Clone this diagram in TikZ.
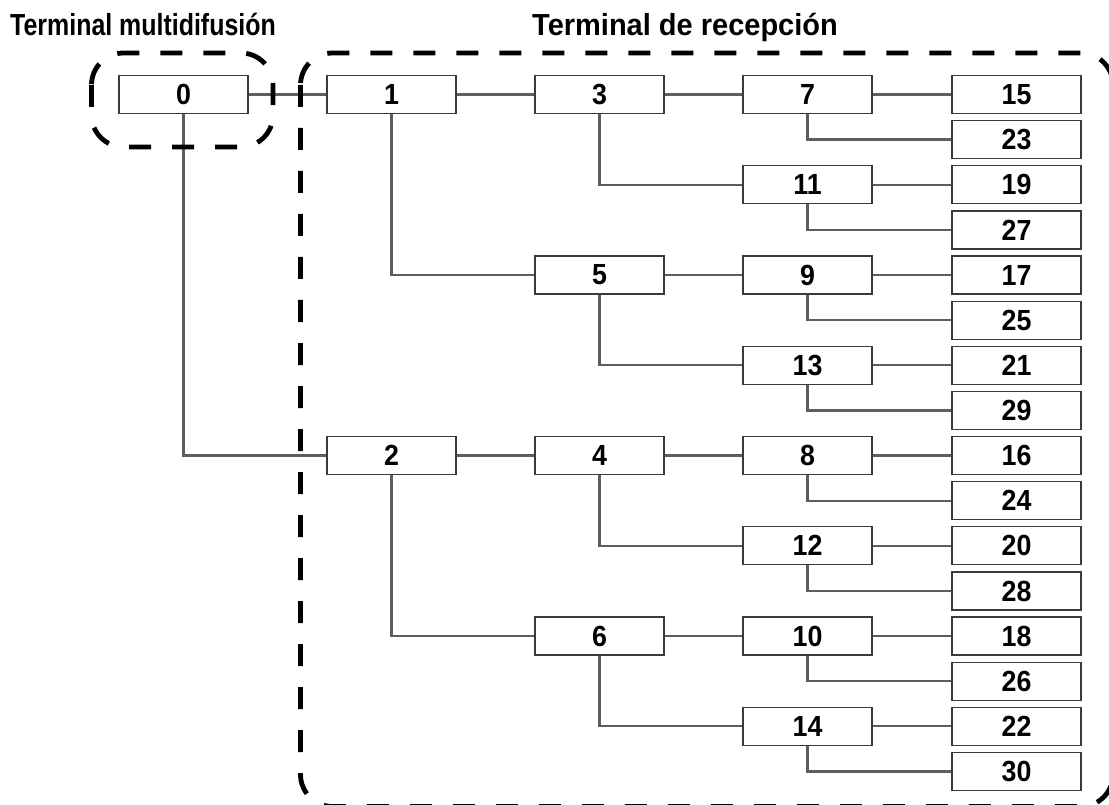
\documentclass[tikz,border=0pt]{standalone}
\usepackage{fontspec}
\setmainfont{Liberation Sans}
\definecolor{linec}{HTML}{5E5E5E}
\definecolor{boxc}{HTML}{3A3A3A}
\newcommand\nb[1]{\scalebox{1.03}[1.12]{#1}}
\begin{document}
\begin{tikzpicture}[x=1pt,y=-1pt,
  box/.style={draw=boxc, line width=1.3pt, fill=white, minimum width=129pt,
    minimum height=38pt, inner sep=0pt, font=\fontsize{26}{26}\selectfont\bfseries},
  link/.style={draw=linec, line width=2.2pt},
  zone/.style={draw=black, line width=4.8pt, dash pattern=on 22pt off 21pt,
    rounded corners=32pt},
  title/.style={anchor=base west, inner sep=0pt, font=\fontsize{29}{29}\selectfont\bfseries}]
\useasboundingbox (0,0) rectangle (1109,805);

% titles
\node[title] (t1) at (10,36) {\scalebox{0.86}[1.05]{Terminal multidifusión}};
\node[title] (t2) at (532,36) {\scalebox{1}[1.05]{Terminal de recepción}};

% column 0
\node[box] (n0) at (183.5,94.5) {\nb{0}};
% column 1
\node[box] (n1) at (391.5,94.5) {\nb{1}};
\node[box] (n2) at (391.5,455.5) {\nb{2}};
% column 2
\node[box] (n3) at (599.5,94.5) {\nb{3}};
\node[box] (n5) at (599.5,275.0) {\nb{5}};
\node[box] (n4) at (599.5,455.5) {\nb{4}};
\node[box] (n6) at (599.5,636.1) {\nb{6}};
% column 3
\node[box] (n7)  at (807.5,94.5)  {\nb{7}};
\node[box] (n11) at (807.5,184.8) {\nb{11}};
\node[box] (n9)  at (807.5,275.0) {\nb{9}};
\node[box] (n13) at (807.5,365.3) {\nb{13}};
\node[box] (n8)  at (807.5,455.5) {\nb{8}};
\node[box] (n12) at (807.5,545.8) {\nb{12}};
\node[box] (n10) at (807.5,636.1) {\nb{10}};
\node[box] (n14) at (807.5,726.3) {\nb{14}};
% column 4
\node[box] (n15) at (1016.5,94.5)  {\nb{15}};
\node[box] (n23) at (1016.5,139.6) {\nb{23}};
\node[box] (n19) at (1016.5,184.8) {\nb{19}};
\node[box] (n27) at (1016.5,229.9) {\nb{27}};
\node[box] (n17) at (1016.5,275.0) {\nb{17}};
\node[box] (n25) at (1016.5,320.2) {\nb{25}};
\node[box] (n21) at (1016.5,365.3) {\nb{21}};
\node[box] (n29) at (1016.5,410.4) {\nb{29}};
\node[box] (n16) at (1016.5,455.5) {\nb{16}};
\node[box] (n24) at (1016.5,500.7) {\nb{24}};
\node[box] (n20) at (1016.5,545.8) {\nb{20}};
\node[box] (n28) at (1016.5,591.0) {\nb{28}};
\node[box] (n18) at (1016.5,636.1) {\nb{18}};
\node[box] (n26) at (1016.5,681.2) {\nb{26}};
\node[box] (n22) at (1016.5,726.3) {\nb{22}};
\node[box] (n30) at (1016.5,771.5) {\nb{30}};

% connectors
\draw[link] (n0) -- (n1);
\draw[link] (n0.south) |- (n2.west);
\draw[link] (n1) -- (n3);
\draw[link] (n1.south) |- (n5.west);
\draw[link] (n2) -- (n4);
\draw[link] (n2.south) |- (n6.west);
\draw[link] (n3) -- (n7);
\draw[link] (n3.south) |- (n11.west);
\draw[link] (n5) -- (n9);
\draw[link] (n5.south) |- (n13.west);
\draw[link] (n4) -- (n8);
\draw[link] (n4.south) |- (n12.west);
\draw[link] (n6) -- (n10);
\draw[link] (n6.south) |- (n14.west);
\draw[link] (n7) -- (n15);
\draw[link] (n7.south) |- (n23.west);
\draw[link] (n11) -- (n19);
\draw[link] (n11.south) |- (n27.west);
\draw[link] (n9) -- (n17);
\draw[link] (n9.south) |- (n25.west);
\draw[link] (n13) -- (n21);
\draw[link] (n13.south) |- (n29.west);
\draw[link] (n8) -- (n16);
\draw[link] (n8.south) |- (n24.west);
\draw[link] (n12) -- (n20);
\draw[link] (n12.south) |- (n28.west);
\draw[link] (n10) -- (n18);
\draw[link] (n10.south) |- (n26.west);
\draw[link] (n14) -- (n22);
\draw[link] (n14.south) |- (n30.west);

% dashed zones
\draw[zone] (91.5,53) rectangle (273,147);
\draw[zone] (300.5,53) rectangle (1113,806.5);
\end{tikzpicture}
\end{document}
